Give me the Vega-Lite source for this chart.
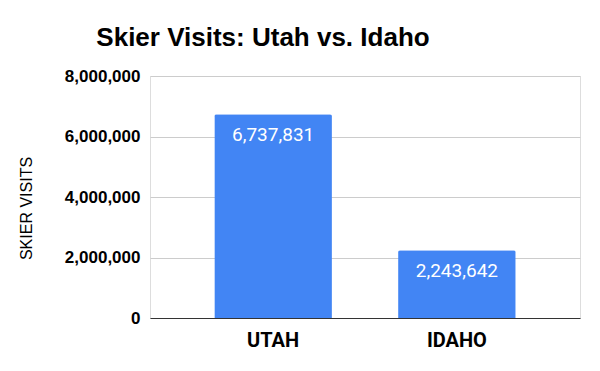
{
  "$schema": "https://vega.github.io/schema/vega-lite/v6.json",
  "width": 430,
  "height": 242,
  "autosize": {"type": "none"},
  "padding": {"left": 150, "top": 76, "right": 20, "bottom": 53},
  "background": "white",
  "title": {
    "text": "Skier Visits: Utah vs. Idaho",
    "font": "Liberation Sans",
    "fontSize": 26,
    "fontWeight": "bold",
    "color": "#000000",
    "anchor": "middle",
    "dx": -102,
    "offset": 16
  },
  "data": {
    "values": [
      {"state": "UTAH", "visits": 6737831},
      {"state": "IDAHO", "visits": 2243642}
    ]
  },
  "encoding": {
    "x": {
      "field": "state",
      "type": "nominal",
      "sort": null,
      "scale": {"paddingInner": 0.36, "paddingOuter": 0.35},
      "axis": {
        "title": null,
        "labelAngle": 0,
        "labelFont": "Roboto",
        "labelFontSize": 20,
        "labelFontWeight": "bold",
        "labelColor": "#000000",
        "labelPadding": 12,
        "ticks": false,
        "domain": true,
        "domainColor": "#333333",
        "domainWidth": 1
      }
    },
    "y": {
      "field": "visits",
      "type": "quantitative",
      "scale": {"domain": [0, 8000000]},
      "axis": {
        "title": "SKIER VISITS",
        "titleFont": "Liberation Sans",
        "titleFontSize": 16,
        "titleFontWeight": "normal",
        "titleColor": "#000000",
        "titleX": -116,
        "titleY": 132,
        "titleAngle": -90,
        "values": [0, 2000000, 4000000, 6000000, 8000000],
        "format": ",d",
        "labelFont": "Liberation Sans",
        "labelFontSize": 17,
        "labelFontWeight": "bold",
        "labelColor": "#000000",
        "labelPadding": 10,
        "ticks": false,
        "domain": false,
        "grid": true,
        "gridColor": "#cccccc"
      }
    }
  },
  "layer": [
    {
      "mark": {"type": "bar", "color": "#4285F4", "cornerRadiusTopLeft": 2, "cornerRadiusTopRight": 2}
    },
    {
      "mark": {"type": "text", "color": "#ffffff", "font": "Roboto", "fontSize": 19, "baseline": "top", "dy": 12},
      "encoding": {
        "text": {"field": "visits", "type": "quantitative", "format": ",d"}
      }
    }
  ]
}
